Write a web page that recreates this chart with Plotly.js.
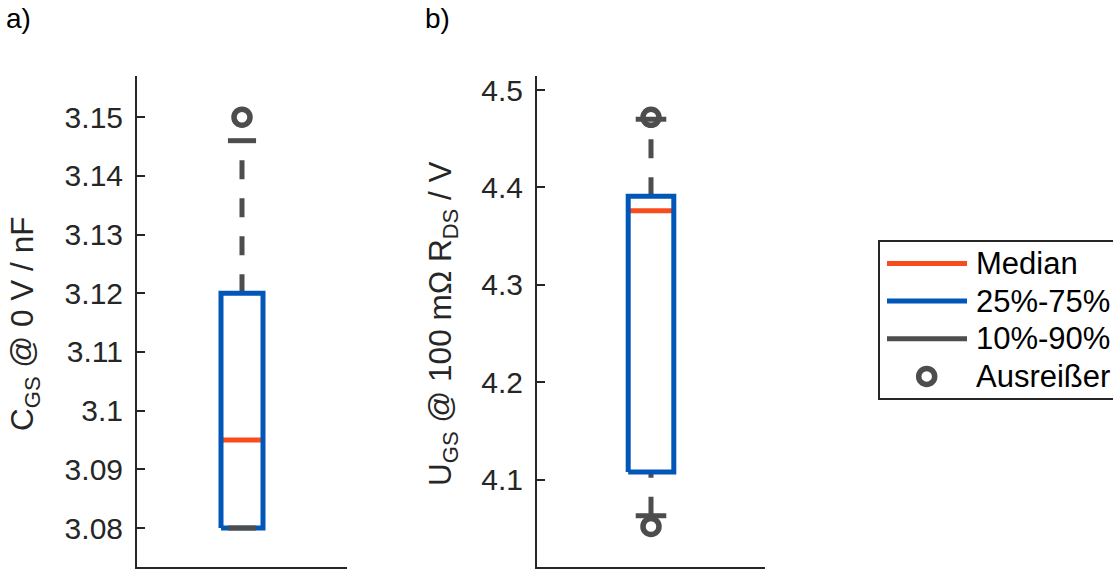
<!DOCTYPE html>
<html>
<head>
<meta charset="utf-8">
<script src="https://cdn.plot.ly/plotly-3.0.1.min.js"></script>
<style>
html, body { margin: 0; padding: 0; background: #ffffff; }
#chart { width: 1113px; height: 569px; }
</style>
</head>
<body>
<div id="chart"></div>
<script>
// ---------------- data ----------------
const panelLabels = ['a)', 'b)'];
const yTitles = ['C<sub>GS</sub> @ 0 V / nF', 'U<sub>GS</sub> @ 100 mΩ R<sub>DS</sub> / V'];
const q25 = [3.080, 4.108];      // box bottom (25 %)
const medians = [3.095, 4.376];  // median
const q75 = [3.120, 4.391];      // box top (75 %)
const p10 = [3.080, 4.063];      // lower whisker end (10 %)
const p90 = [3.146, 4.470];      // upper whisker end (90 %)
const outliersA = [3.150];
const outliersB = [4.472, 4.052];
const tickValsA = [3.08, 3.09, 3.10, 3.11, 3.12, 3.13, 3.14, 3.15];
const tickTextA = ['3.08', '3.09', '3.1', '3.11', '3.12', '3.13', '3.14', '3.15'];
const tickValsB = [4.1, 4.2, 4.3, 4.4, 4.5];
const tickTextB = ['4.1', '4.2', '4.3', '4.4', '4.5'];
const legendLabels = ['Median', '25%-75%', '10%-90%', 'Ausreißer'];

// ---------------- style ----------------
const W = 1113, H = 569;
const BLUE = '#0057b8', RED = '#f84c1e', GRAY = '#4d4d4d', AX = '#262626';
const FONT = 'Liberation Sans, Arial, Helvetica, sans-serif';
const center = 1, boxHalf = 0.1, capHalf = 0.067;
const LW = 5;

const px = v => v / W;
const py = v => 1 - v / H;

const outliers = [outliersA, outliersB];
const traces = [];
[0, 1].forEach(i => {
  const xa = i === 0 ? 'x' : 'x2';
  const ya = i === 0 ? 'y' : 'y2';
  const base = { xaxis: xa, yaxis: ya, mode: 'lines', showlegend: false, hoverinfo: 'skip' };
  // whiskers (drawn from lower value to higher value)
  traces.push(Object.assign({}, base, {
    x: [center, center], y: [q75[i], p90[i]],
    line: { color: GRAY, width: LW, dash: '19px,19px' }
  }));
  traces.push(Object.assign({}, base, {
    x: [center, center], y: [p10[i], q25[i]],
    line: { color: GRAY, width: LW, dash: '19px,19px' }
  }));
  // median
  traces.push(Object.assign({}, base, {
    x: [center - boxHalf, center + boxHalf], y: [medians[i], medians[i]],
    line: { color: RED, width: LW }
  }));
  // box
  traces.push(Object.assign({}, base, {
    x: [center - boxHalf, center + boxHalf, center + boxHalf, center - boxHalf, center - boxHalf],
    y: [q25[i], q25[i], q75[i], q75[i], q25[i]],
    line: { color: BLUE, width: LW }
  }));
  // caps
  traces.push(Object.assign({}, base, {
    x: [center - capHalf, center + capHalf], y: [p90[i], p90[i]],
    line: { color: GRAY, width: LW }
  }));
  traces.push(Object.assign({}, base, {
    x: [center - capHalf, center + capHalf], y: [p10[i], p10[i]],
    line: { color: GRAY, width: LW }
  }));
  // outliers
  traces.push({
    xaxis: xa, yaxis: ya, mode: 'markers', showlegend: false, hoverinfo: 'skip',
    x: outliers[i].map(() => center), y: outliers[i],
    marker: { symbol: 'circle-open', size: 16, color: GRAY, line: { width: 5.5, color: GRAY } }
  });
});

const yAxisCommon = {
  showline: true, linecolor: AX, linewidth: 2, ticks: 'inside', ticklen: 8,
  tickwidth: 2, tickcolor: AX, showgrid: false, zeroline: false, ticklabelstandoff: 6,
  tickfont: { family: FONT, size: 30, color: AX }, fixedrange: true
};
const xAxisCommon = {
  showline: true, linecolor: AX, linewidth: 2, ticks: '', showticklabels: false,
  showgrid: false, zeroline: false, range: [0.5, 1.5], fixedrange: true
};

// legend (drawn by hand to match the reference box)
const legRowY = [263.5, 301, 338.7, 376.4];
const legColors = [RED, BLUE, GRAY];
const shapes = [
  { type: 'rect', xref: 'paper', yref: 'paper', x0: px(879), x1: px(1140), y0: py(241), y1: py(399),
    line: { color: AX, width: 2 }, fillcolor: 'rgba(255,255,255,1)', layer: 'above' }
];
legColors.forEach((c, k) => {
  shapes.push({ type: 'line', xref: 'paper', yref: 'paper', x0: px(887), x1: px(967),
    y0: py(legRowY[k]), y1: py(legRowY[k]), line: { color: c, width: LW }, layer: 'above' });
});
shapes.push({ type: 'circle', xref: 'paper', yref: 'paper',
  x0: px(926.7 - 8), x1: px(926.7 + 8), y0: py(legRowY[3] + 8), y1: py(legRowY[3] - 8),
  line: { color: GRAY, width: 5.5 }, layer: 'above' });

const annotations = [];
legendLabels.forEach((t, k) => {
  annotations.push({ xref: 'paper', yref: 'paper', x: px(974), y: py(legRowY[k]),
    xanchor: 'left', yanchor: 'middle', text: t, showarrow: false,
    font: { family: FONT, size: 31, color: '#000000' } });
});
annotations.push({ xref: 'paper', yref: 'paper', x: px(4), y: py(19), xanchor: 'left', yanchor: 'middle',
  text: panelLabels[0], showarrow: false, font: { family: FONT, size: 28, color: '#000000' } });
annotations.push({ xref: 'paper', yref: 'paper', x: px(423), y: py(19), xanchor: 'left', yanchor: 'middle',
  text: panelLabels[1], showarrow: false, font: { family: FONT, size: 28, color: '#000000' } });
annotations.push({ xref: 'paper', yref: 'paper', x: px(24), y: py(324), xanchor: 'center', yanchor: 'middle',
  textangle: -90, text: yTitles[0], showarrow: false, font: { family: FONT, size: 31.5, color: AX } });
annotations.push({ xref: 'paper', yref: 'paper', x: px(442), y: py(324), xanchor: 'center', yanchor: 'middle',
  textangle: -90, text: yTitles[1], showarrow: false, font: { family: FONT, size: 31.5, color: AX } });

const layout = {
  width: W, height: H,
  margin: { l: 0, r: 0, t: 0, b: 0, autoexpand: false },
  paper_bgcolor: '#ffffff', plot_bgcolor: '#ffffff',
  showlegend: false,
  xaxis: Object.assign({}, xAxisCommon, { domain: [px(137), px(347)], anchor: 'y' }),
  xaxis2: Object.assign({}, xAxisCommon, { domain: [px(537), px(765)], anchor: 'y2' }),
  yaxis: Object.assign({}, yAxisCommon, { domain: [py(567), py(76)], anchor: 'x',
    range: [3.07336, 3.15702], tickvals: tickValsA, ticktext: tickTextA }),
  yaxis2: Object.assign({}, yAxisCommon, { domain: [py(567), py(76)], anchor: 'x2',
    range: [4.01037, 4.51437], tickvals: tickValsB, ticktext: tickTextB }),
  shapes: shapes,
  annotations: annotations
};

Plotly.newPlot('chart', traces, layout, { staticPlot: true, displayModeBar: false });
</script>
</body>
</html>
